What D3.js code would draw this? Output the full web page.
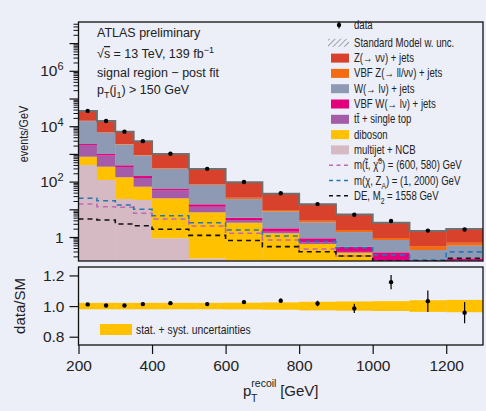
<!DOCTYPE html>
<html>
<head>
<meta charset="utf-8">
<script src="https://cdn.jsdelivr.net/npm/d3@7"></script>
<style>
  html, body { margin: 0; padding: 0; background: #eceef8; }
  svg { display: block; }
  text { font-family: "Liberation Sans", Arial, sans-serif; fill: #222; }
</style>
</head>
<body>
<div id="chart"></div>
<script>
// bin edges in GeV
const binEdges = [200, 250, 300, 350, 400, 500, 600, 700, 800, 900, 1000, 1100, 1200, 1300];

// background processes, events/GeV (stack order bottom -> top)
const multijet = [397, 114, 23.5, 21.7, 0.9, 0.17, 0.14, 0.12, 0.1, 0.05, 0.02, 0.01, 0.01];
const diboson  = [395, 231, 120, 43.7, 24.1, 7.6, 3.14, 1.24, 0.46, 0.22, 0.05, 0.02, 0.03];
const ttbar    = [1300, 525, 194, 69.6, 22.7, 4.6, 0.82, 0.19, 0.08, 0.02, 0.01, 0.01, 0.01];
const vbfW     = [180, 120, 51, 24, 6.3, 2.8, 0.87, 0.51, 0.26, 0.15, 0.2, 0.08, 0.12];
const wjets    = [13000, 4830, 1800, 718, 236, 60.8, 18.5, 6.27, 2.44, 1.07, 0.5, 0.22, 0.315];
const vbfZ     = [500, 200, 90, 35, 12, 4, 2.7, 1.1, 0.54, 0.28, 0.14, 0.13, 0.135];
const zjets    = [19600, 9380, 4050, 1938, 690, 205, 68.2, 27.2, 11.3, 4.7, 2.36, 1.18, 1.32];

// data / SM ratio and its error, SM uncertainty (relative)
const dataRatio    = [1.011, 1.004, 1.004, 1.013, 1.019, 1.013, 1.026, 1.035, 1.017, 0.985, 1.156, 1.032, 0.957];
const dataRatioErr = [0.004, 0.005, 0.006, 0.008, 0.008, 0.01, 0.012, 0.015, 0.018, 0.03, 0.046, 0.07, 0.069];
const smUnc        = [0.021, 0.021, 0.021, 0.021, 0.021, 0.021, 0.022, 0.024, 0.028, 0.03, 0.032, 0.038, 0.04];

// signal hypotheses, events/GeV
const sigStop = [15.5, 12.4, 11.8, 7.2, 4.47, 2.5, 1.36, 0.78, 0.37, 0.206, 0.1, 0.07, 0.05];
const sigZA   = [25, 20.5, 14.3, 10, 5.87, 3.28, 1.79, 1.09, 0.68, 0.41, 0.224, 0.148, 0.29];
const sigDE   = [4.47, 4.1, 2.95, 2.56, 1.9, 1.15, 0.75, 0.45, 0.295, 0.206, 0.12, 0.1, 0.17];

const processes = [
    {key: "multijet", label: "multijet + NCB", color: "#d5bac3", values: multijet},
    {key: "diboson", label: "diboson", color: "#ffc100", values: diboson},
    {key: "ttbar", label: "tt̄ + single top", color: "#a55ca8", values: ttbar},
    {key: "vbfW", label: "VBF W(→ lν) + jets", color: "#e4007c", values: vbfW},
    {key: "wjets", label: "W(→ lν) + jets", color: "#8e9ab3", values: wjets},
    {key: "vbfZ", label: "VBF Z(→ ll/νν) + jets", color: "#f36c12", values: vbfZ},
    {key: "zjets", label: "Z(→ νν) + jets", color: "#d8412b", values: zjets}
];

const signals = [
    {label: ["m(t̃, χ̃", "0", "", ") = (600, 580) GeV"], color: "#c466b6", values: sigStop},
    {label: ["m(χ, Z", "", "A", ") = (1, 2000) GeV"], color: "#2378b5", values: sigZA},
    {label: ["DE, M", "", "2", " = 1558 GeV"], color: "#111111", values: sigDE}
];

const W = 486, H = 411;
const mainBox = {left: 78.5, right: 483, top: 22, bottom: 261};
const ratioBox = {left: 78.5, right: 483, top: 267, bottom: 345};
const squeeze = 0.8; // condensed look of the original font

const svg = d3.select("#chart").append("svg")
    .attr("width", W)
    .attr("height", H);

const x = d3.scaleLinear().domain([200, 1300]).range([mainBox.left, mainBox.right]);
const y = d3.scaleLog().domain([Math.pow(10, -0.866), Math.pow(10, 7.762)]).range([mainBox.bottom, mainBox.top]).clamp(true);
const yr = d3.scaleLinear().domain([0.746, 1.255]).range([ratioBox.bottom, ratioBox.top]);

const bins = d3.range(binEdges.length - 1).map(i => ({lo: binEdges[i], hi: binEdges[i + 1], i: i}));

// stack
const rows = bins.map(b => {
    const r = {};
    processes.forEach(p => r[p.key] = p.values[b.i]);
    return r;
});
const stack = d3.stack().keys(processes.map(p => p.key))(rows);
const total = bins.map(b => d3.sum(processes, p => p.values[b.i]));

// condensed text placed at (tx, ty)
function narrowText(parent, tx, ty, size) {
    return parent.append("g")
        .attr("transform", `translate(${tx},${ty}) scale(${squeeze},1)`)
        .append("text")
        .style("font-size", size + "px");
}

const defs = svg.append("defs");
defs.append("clipPath").attr("id", "clipMain")
    .append("rect")
    .attr("x", mainBox.left).attr("y", mainBox.top)
    .attr("width", mainBox.right - mainBox.left).attr("height", mainBox.bottom - mainBox.top);
defs.append("clipPath").attr("id", "clipRatio")
    .append("rect")
    .attr("x", ratioBox.left).attr("y", ratioBox.top)
    .attr("width", ratioBox.right - ratioBox.left).attr("height", ratioBox.bottom - ratioBox.top);

const hatch = defs.append("pattern")
    .attr("id", "hatch")
    .attr("patternUnits", "userSpaceOnUse")
    .attr("width", 4).attr("height", 4)
    .attr("patternTransform", "rotate(45)");
hatch.append("line")
    .attr("x1", 0).attr("y1", 0).attr("x2", 0).attr("y2", 4)
    .attr("stroke", "#555").attr("stroke-width", 1);

const main = svg.append("g").attr("clip-path", "url(#clipMain)");

stack.forEach((layer, li) => {
    main.append("g")
        .selectAll("rect")
        .data(layer)
        .join("rect")
        .attr("x", (d, i) => x(bins[i].lo))
        .attr("width", (d, i) => x(bins[i].hi) - x(bins[i].lo) + 0.3)
        .attr("y", d => y(Math.max(d[1], 1e-3)))
        .attr("height", d => y(Math.max(d[0], 1e-3)) - y(Math.max(d[1], 1e-3)))
        .attr("fill", processes[li].color);
});

// SM uncertainty hatch on top of stack
main.append("g")
    .selectAll("rect")
    .data(bins)
    .join("rect")
    .attr("x", b => x(b.lo))
    .attr("width", b => x(b.hi) - x(b.lo))
    .attr("y", b => y(total[b.i] * (1 + smUnc[b.i])))
    .attr("height", b => y(total[b.i] * (1 - smUnc[b.i])) - y(total[b.i] * (1 + smUnc[b.i])))
    .attr("fill", "url(#hatch)");

// step line helper
function stepPts(vals) {
    const pts = bins.map(b => [b.lo, vals[b.i]]);
    pts.push([1300, vals[vals.length - 1]]);
    return pts;
}
const stepLine = d3.line()
    .x(d => x(d[0]))
    .y(d => y(d[1]))
    .curve(d3.curveStepAfter);

// stack outline
main.append("path")
    .attr("d", stepLine(stepPts(total)))
    .attr("fill", "none")
    .attr("stroke", "#707070")
    .attr("stroke-width", 2);

// signals
signals.forEach(s => {
    main.append("path")
        .attr("d", stepLine(stepPts(s.values)))
        .attr("fill", "none")
        .attr("stroke", s.color)
        .attr("stroke-width", 1.6)
        .attr("stroke-dasharray", "5,4");
});

// data points
main.append("g")
    .selectAll("circle")
    .data(bins)
    .join("circle")
    .attr("cx", b => x((b.lo + b.hi) / 2))
    .attr("cy", b => y(total[b.i] * dataRatio[b.i]))
    .attr("r", 2.2)
    .attr("fill", "#000");

// main frame
svg.append("rect")
    .attr("x", mainBox.left).attr("y", mainBox.top)
    .attr("width", mainBox.right - mainBox.left).attr("height", mainBox.bottom - mainBox.top)
    .attr("fill", "none").attr("stroke", "#111").attr("stroke-width", 1.3);

// main y axis: minor, major, labels
const minorVals = [];
for (let e = -1; e <= 7; e++) for (let k = 2; k <= 9; k++) minorVals.push(k * Math.pow(10, e));
const majorVals = d3.range(0, 8).map(e => Math.pow(10, e));

svg.append("g")
    .attr("transform", `translate(${mainBox.left},0)`)
    .call(d3.axisLeft(y).tickValues(minorVals.filter(v => v > y.domain()[0] && v < y.domain()[1])).tickSize(5).tickFormat(""))
    .call(g => g.select(".domain").remove())
    .call(g => g.selectAll("line").attr("stroke", "#111"));
svg.append("g")
    .attr("transform", `translate(${mainBox.left},0)`)
    .call(d3.axisLeft(y).tickValues(majorVals).tickSize(9).tickFormat(""))
    .call(g => g.select(".domain").remove())
    .call(g => g.selectAll("line").attr("stroke", "#111").attr("stroke-width", 1.2));

[0, 2, 4, 6].forEach(e => {
    const t = svg.append("text")
        .attr("x", mainBox.left - 15)
        .attr("y", y(Math.pow(10, e)) + 5.5)
        .attr("text-anchor", "end")
        .style("font-size", "15.5px");
    if (e === 0) {
        t.text("1");
    } else {
        t.append("tspan").text("10");
        t.append("tspan").attr("dy", -6).style("font-size", "11px").text(e);
    }
});

svg.append("g")
    .attr("transform", "translate(27.5,134) rotate(-90) scale(0.8,1)")
    .append("text")
    .attr("text-anchor", "middle")
    .style("font-size", "13.5px")
    .text("events/GeV");

// annotation
const ann = svg.append("g").attr("transform", "translate(97,0)");
ann.append("text").attr("y", 37).style("font-size", "12.5px").text("ATLAS preliminary");
const sq = ann.append("text").attr("y", 58).style("font-size", "12.5px");
sq.append("tspan").text("√");
sq.append("tspan").style("text-decoration", "overline").text("s");
sq.append("tspan").text(" = 13 TeV, 139 fb");
sq.append("tspan").attr("dy", -5).style("font-size", "9px").text("−1");
ann.append("text").attr("y", 77).style("font-size", "12.5px").text("signal region − post fit");
const pt = ann.append("text").attr("y", 94).style("font-size", "12.5px");
pt.append("tspan").text("p");
pt.append("tspan").attr("dy", 4).style("font-size", "9px").text("T");
pt.append("tspan").attr("dy", -4).text("(j");
pt.append("tspan").attr("dy", 4).style("font-size", "9px").text("1");
pt.append("tspan").attr("dy", -4).text(") > 150 GeV");

// legend
const leg = svg.append("g");
const legX = 331, legTx = 354, legSize = 12;
const legRowY = i => i === 0 ? 25 : 27.5 + i * 15.3;
// data
leg.append("line").attr("x1", 339).attr("x2", 339).attr("y1", legRowY(0) - 3.5).attr("y2", legRowY(0) + 3.5).attr("stroke", "#000").attr("stroke-width", 1.2);
leg.append("circle").attr("cx", 339).attr("cy", legRowY(0)).attr("r", 2.2).attr("fill", "#000");
narrowText(leg, legTx, legRowY(0) + 4, legSize).text("data");
// SM hatch
leg.append("rect").attr("x", 328).attr("y", legRowY(1) - 4).attr("width", 21).attr("height", 8).attr("fill", "url(#hatch)");
narrowText(leg, legTx, legRowY(1) + 4, legSize).text("Standard Model w. unc.");
// processes, top of stack first
processes.slice().reverse().forEach((p, j) => {
    const yy = legRowY(j + 2);
    leg.append("rect").attr("x", legX).attr("y", yy - 4.5).attr("width", 18).attr("height", 9).attr("fill", p.color);
    narrowText(leg, legTx, yy + 4, legSize).text(p.label);
});
signals.forEach((s, j) => {
    const yy = legRowY(j + 9);
    leg.append("line").attr("x1", 329).attr("x2", 350).attr("y1", yy).attr("y2", yy)
        .attr("stroke", s.color).attr("stroke-width", 1.6).attr("stroke-dasharray", "4,3.5");
    const t = narrowText(leg, legTx, yy + 4, legSize);
    t.append("tspan").text(s.label[0]);
    if (s.label[1]) t.append("tspan").attr("dy", -5).style("font-size", "8.5px").text(s.label[1]);
    if (s.label[2]) t.append("tspan").attr("dy", 4).style("font-size", "8.5px").text(s.label[2]);
    t.append("tspan").attr("dy", s.label[1] ? 5 : -4).text(s.label[3]);
});

// ratio panel
const ratio = svg.append("g").attr("clip-path", "url(#clipRatio)");
ratio.append("g")
    .selectAll("rect")
    .data(bins)
    .join("rect")
    .attr("x", b => x(b.lo))
    .attr("width", b => x(b.hi) - x(b.lo) + 0.3)
    .attr("y", b => yr(1 + smUnc[b.i]))
    .attr("height", b => yr(1 - smUnc[b.i]) - yr(1 + smUnc[b.i]))
    .attr("fill", "#ffc100");

ratio.append("g")
    .selectAll("line")
    .data(bins)
    .join("line")
    .attr("x1", b => x((b.lo + b.hi) / 2))
    .attr("x2", b => x((b.lo + b.hi) / 2))
    .attr("y1", b => yr(dataRatio[b.i] - dataRatioErr[b.i]))
    .attr("y2", b => yr(dataRatio[b.i] + dataRatioErr[b.i]))
    .attr("stroke", "#000").attr("stroke-width", 1.2);
ratio.append("g")
    .selectAll("circle")
    .data(bins)
    .join("circle")
    .attr("cx", b => x((b.lo + b.hi) / 2))
    .attr("cy", b => yr(dataRatio[b.i]))
    .attr("r", 2.2)
    .attr("fill", "#000");

// ratio legend
svg.append("rect").attr("x", 100).attr("y", 324).attr("width", 32).attr("height", 11).attr("fill", "#ffc100");
narrowText(svg, 136, 334, 13).text("stat. + syst. uncertainties");

svg.append("rect")
    .attr("x", ratioBox.left).attr("y", ratioBox.top)
    .attr("width", ratioBox.right - ratioBox.left).attr("height", ratioBox.bottom - ratioBox.top)
    .attr("fill", "none").attr("stroke", "#111").attr("stroke-width", 1.3);

svg.append("g")
    .attr("transform", `translate(${ratioBox.left},0)`)
    .call(d3.axisLeft(yr).tickValues([0.8, 1.0, 1.2]).tickSize(9).tickPadding(5).tickFormat(d3.format(".1f")))
    .call(g => g.select(".domain").remove())
    .call(g => g.selectAll("line").attr("stroke", "#111").attr("stroke-width", 1.2))
    .call(g => g.selectAll("text").style("font-size", "15.5px").style("font-family", "Liberation Sans, Arial, sans-serif").attr("fill", "#222"));

svg.append("g")
    .attr("transform", `translate(0,${ratioBox.bottom})`)
    .call(d3.axisBottom(x).tickValues([200, 400, 600, 800, 1000, 1200]).tickSize(9).tickPadding(6).tickFormat(d3.format("d")))
    .call(g => g.select(".domain").remove())
    .call(g => g.selectAll("line").attr("stroke", "#111").attr("stroke-width", 1.2))
    .call(g => g.selectAll("text").style("font-size", "15.5px").style("font-family", "Liberation Sans, Arial, sans-serif").attr("fill", "#222"));

svg.append("text")
    .attr("transform", `translate(25,${(ratioBox.top + ratioBox.bottom) / 2}) rotate(-90)`)
    .attr("text-anchor", "middle")
    .style("font-size", "15px")
    .text("data/SM");

const xl = svg.append("text").attr("x", 243).attr("y", 396).style("font-size", "15px");
xl.append("tspan").text("p");
xl.append("tspan").attr("dy", -9).style("font-size", "10.5px").text("recoil");
xl.append("tspan").attr("x", 251).attr("dy", 15).style("font-size", "10.5px").text("T");
xl.append("tspan").attr("x", 276).attr("dy", -6).text(" [GeV]");
</script>
</body>
</html>
